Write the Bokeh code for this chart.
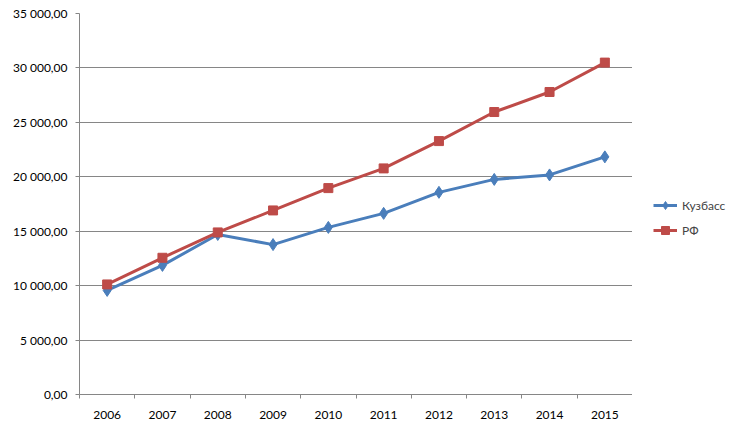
from bokeh.plotting import figure
from bokeh.layouts import row
from bokeh.models import Range1d, FixedTicker, Legend
from bokeh.embed import file_html
from bokeh.resources import INLINE

years = [2006, 2007, 2008, 2009, 2010, 2011, 2012, 2013, 2014, 2015]
kuzbass = [9560, 11860, 14700, 13770, 15350, 16640, 18570, 19760, 20170, 21830]
rf = [10110, 12560, 14890, 16910, 18960, 20770, 23280, 25950, 27790, 30490]
y_ticks = [0, 5000, 10000, 15000, 20000, 25000, 30000, 35000]
y_labels = ["0,00", "5 000,00", "10 000,00", "15 000,00", "20 000,00",
            "25 000,00", "30 000,00", "35 000,00"]
series_names = ["Кузбасс", "РФ"]

FONT = "Lato"
GRID = "#868686"
BLUE = "#4A7EBB"
RED = "#BE4B48"

p = figure(width=632, height=435, output_backend="svg", toolbar_location=None,
           x_range=Range1d(years[0] - 0.5, years[-1] + 0.5),
           y_range=Range1d(0, 35000),
           min_border_left=79, min_border_top=13, min_border_bottom=41,
           min_border_right=0)
p.outline_line_color = None
p.background_fill_color = "white"
p.border_fill_color = "white"

# x axis: labels at the year centres, tick marks on category boundaries
p.xaxis.ticker = FixedTicker(ticks=years,
                             minor_ticks=[y - 0.5 for y in years] + [years[-1] + 0.5])
p.xaxis.major_tick_out = 0
p.xaxis.major_tick_in = 0
p.xaxis.minor_tick_out = 4
p.xaxis.minor_tick_in = 0
p.xaxis.minor_tick_line_color = GRID
p.xaxis.axis_line_color = GRID
p.xaxis.major_label_standoff = 12
p.xgrid.grid_line_color = None

p.yaxis.ticker = FixedTicker(ticks=y_ticks)
p.yaxis.major_label_overrides = {t: l for t, l in zip(y_ticks, y_labels)}
p.yaxis.major_tick_out = 4
p.yaxis.major_tick_in = 0
p.yaxis.minor_tick_line_color = None
p.yaxis.major_tick_line_color = GRID
p.yaxis.axis_line_color = GRID
p.yaxis.major_label_standoff = 8
p.ygrid.grid_line_color = GRID
p.ygrid.ticker = FixedTicker(ticks=y_ticks)

for ax in (p.xaxis, p.yaxis):
    ax.major_label_text_font = FONT
    ax.major_label_text_font_size = "12px"
    ax.major_label_text_color = "#000000"

p.line(years, kuzbass, line_color=BLUE, line_width=3)
p.scatter(years, kuzbass, marker="diamond", size=12, fill_color=BLUE,
          line_color=BLUE)
p.line(years, rf, line_color=RED, line_width=3)
p.scatter(years, rf, marker="square", size=9, fill_color=RED, line_color=RED)

# side panel holding the legend; its stand-in renderers sit outside the view
side = figure(width=104, height=435, output_backend="svg", toolbar_location=None,
              x_axis_location=None, y_axis_location=None,
              x_range=Range1d(0, 1), y_range=Range1d(0, 1),
              min_border=0)
side.outline_line_color = None
side.grid.grid_line_color = None
off = [-10, -9]
k_line = side.line(off, off, line_color=BLUE, line_width=3)
k_mark = side.scatter(off, off, marker="diamond", size=12, fill_color=BLUE,
                      line_color=BLUE)
r_line = side.line(off, off, line_color=RED, line_width=3)
r_mark = side.scatter(off, off, marker="square", size=9, fill_color=RED,
                      line_color=RED)
legend = Legend(items=[(series_names[0], [k_line, k_mark]),
                       (series_names[1], [r_line, r_mark])],
                location=(21, 154), orientation="vertical",
                border_line_color=None, background_fill_alpha=0,
                label_text_font=FONT, label_text_font_size="12px",
                glyph_width=24, glyph_height=20, label_height=20,
                spacing=5, padding=0, margin=0, label_standoff=5)
side.add_layout(legend, "center")

layout = row(p, side, spacing=0)
open("out.html", "w").write(file_html(layout, INLINE))
